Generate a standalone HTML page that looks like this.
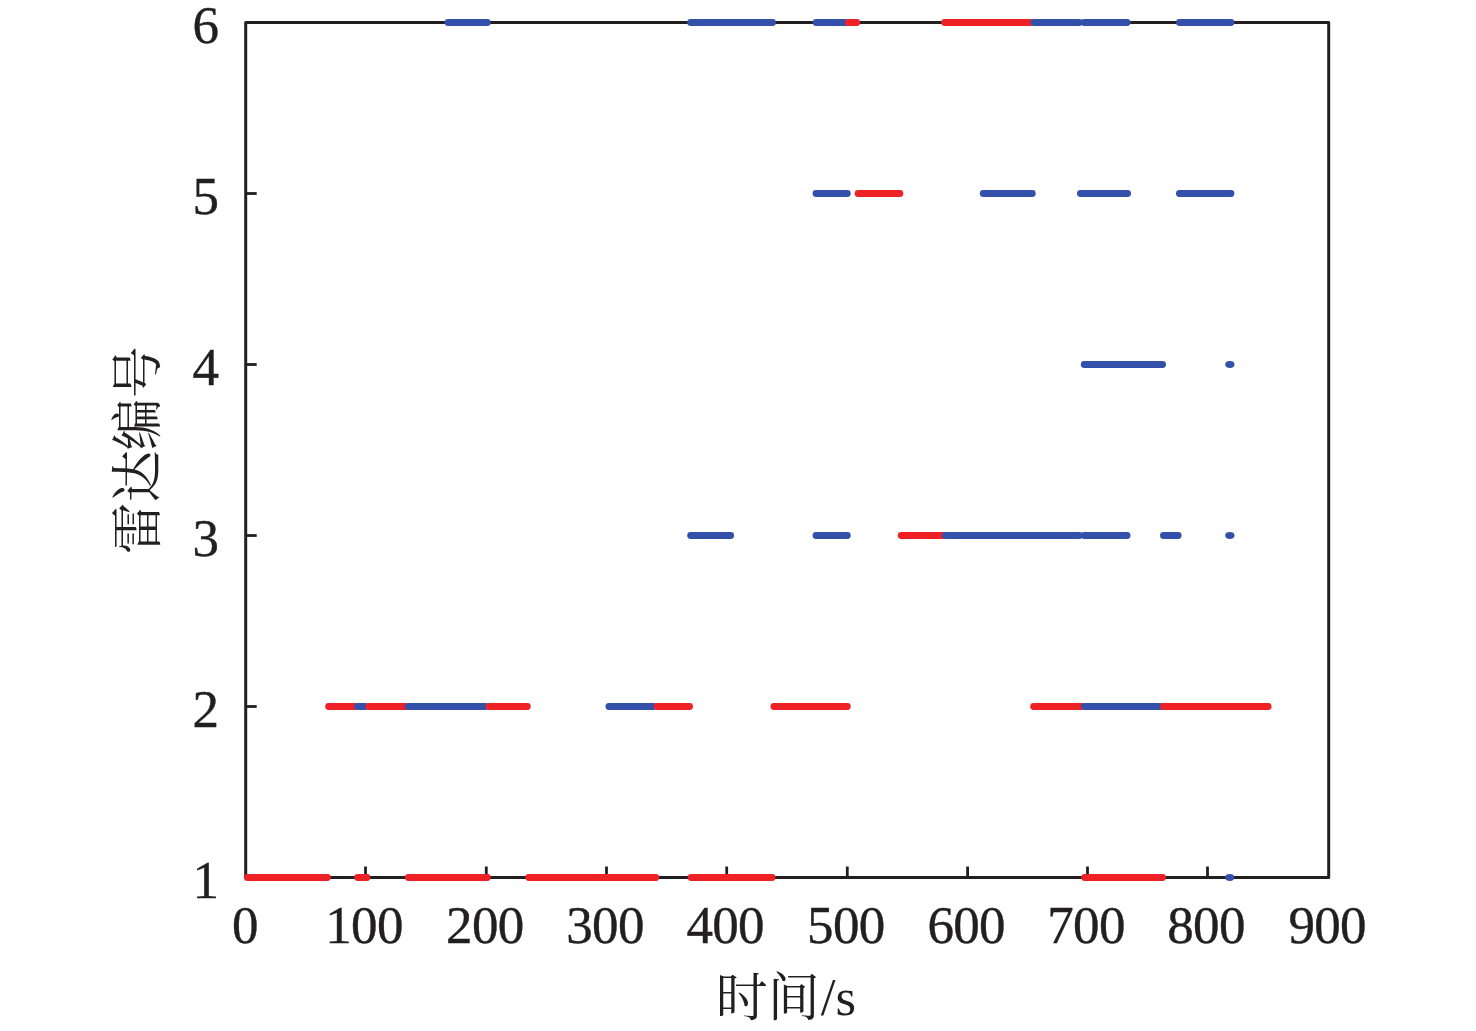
<!DOCTYPE html>
<html lang="zh"><head><meta charset="utf-8"><title>雷达编号 - 时间/s</title>
<style>html,body{margin:0;padding:0;background:#fff;}svg{display:block;}.d{stroke:#231F20;stroke-width:0.4px;letter-spacing:-0.7px;}text{font-family:"Liberation Serif","Noto Serif CJK SC",serif;fill:#231F20;}.cj{font-family:"Noto Serif CJK SC","Liberation Serif",serif;}</style></head><body>
<svg width="1476" height="1031" viewBox="0 0 1476 1031">
<rect width="1476" height="1031" fill="#fff"/>
<rect x="245.70" y="22.50" width="1083.00" height="855.00" fill="none" stroke="#231F20" stroke-width="3.00" stroke-linejoin="round"/>
<line x1="365.50" y1="877.50" x2="365.50" y2="866.50" stroke="#231F20" stroke-width="2.80"/>
<line x1="486.30" y1="877.50" x2="486.30" y2="866.50" stroke="#231F20" stroke-width="2.80"/>
<line x1="606.50" y1="877.50" x2="606.50" y2="866.50" stroke="#231F20" stroke-width="2.80"/>
<line x1="726.70" y1="877.50" x2="726.70" y2="866.50" stroke="#231F20" stroke-width="2.80"/>
<line x1="847.30" y1="877.50" x2="847.30" y2="866.50" stroke="#231F20" stroke-width="2.80"/>
<line x1="967.60" y1="877.50" x2="967.60" y2="866.50" stroke="#231F20" stroke-width="2.80"/>
<line x1="1087.50" y1="877.50" x2="1087.50" y2="866.50" stroke="#231F20" stroke-width="2.80"/>
<line x1="1207.50" y1="877.50" x2="1207.50" y2="866.50" stroke="#231F20" stroke-width="2.80"/>
<line x1="245.70" y1="706.50" x2="256.70" y2="706.50" stroke="#231F20" stroke-width="2.80"/>
<line x1="245.70" y1="535.50" x2="256.70" y2="535.50" stroke="#231F20" stroke-width="2.80"/>
<line x1="245.70" y1="364.50" x2="256.70" y2="364.50" stroke="#231F20" stroke-width="2.80"/>
<line x1="245.70" y1="193.50" x2="256.70" y2="193.50" stroke="#231F20" stroke-width="2.80"/>
<line x1="247.40" y1="877.50" x2="327.40" y2="877.50" stroke="#EE2127" stroke-width="6.80" stroke-linecap="round"/>
<line x1="357.70" y1="877.50" x2="367.00" y2="877.50" stroke="#EE2127" stroke-width="6.80" stroke-linecap="round"/>
<line x1="408.40" y1="877.50" x2="487.30" y2="877.50" stroke="#EE2127" stroke-width="6.80" stroke-linecap="round"/>
<line x1="528.70" y1="877.50" x2="655.80" y2="877.50" stroke="#EE2127" stroke-width="6.80" stroke-linecap="round"/>
<line x1="691.10" y1="877.50" x2="772.10" y2="877.50" stroke="#EE2127" stroke-width="6.80" stroke-linecap="round"/>
<line x1="1084.70" y1="877.50" x2="1162.60" y2="877.50" stroke="#EE2127" stroke-width="6.80" stroke-linecap="round"/>
<ellipse cx="1229.75" cy="877.50" rx="4.55" ry="3.40" fill="#3351AA"/>
<line x1="328.60" y1="706.50" x2="354.60" y2="706.50" stroke="#EE2127" stroke-width="6.80" stroke-linecap="round"/>
<line x1="357.60" y1="706.50" x2="365.60" y2="706.50" stroke="#3351AA" stroke-width="6.80" stroke-linecap="round"/>
<line x1="368.80" y1="706.50" x2="405.60" y2="706.50" stroke="#EE2127" stroke-width="6.80" stroke-linecap="round"/>
<line x1="408.20" y1="706.50" x2="485.60" y2="706.50" stroke="#3351AA" stroke-width="6.80" stroke-linecap="round"/>
<line x1="489.00" y1="706.50" x2="527.30" y2="706.50" stroke="#EE2127" stroke-width="6.80" stroke-linecap="round"/>
<line x1="608.90" y1="706.50" x2="653.60" y2="706.50" stroke="#3351AA" stroke-width="6.80" stroke-linecap="round"/>
<line x1="657.10" y1="706.50" x2="689.60" y2="706.50" stroke="#EE2127" stroke-width="6.80" stroke-linecap="round"/>
<line x1="773.90" y1="706.50" x2="847.30" y2="706.50" stroke="#EE2127" stroke-width="6.80" stroke-linecap="round"/>
<line x1="1033.60" y1="706.50" x2="1081.60" y2="706.50" stroke="#EE2127" stroke-width="6.80" stroke-linecap="round"/>
<line x1="1084.55" y1="706.50" x2="1160.60" y2="706.50" stroke="#3351AA" stroke-width="6.80" stroke-linecap="round"/>
<line x1="1163.40" y1="706.50" x2="1268.20" y2="706.50" stroke="#EE2127" stroke-width="6.80" stroke-linecap="round"/>
<line x1="690.60" y1="535.50" x2="730.70" y2="535.50" stroke="#3351AA" stroke-width="6.80" stroke-linecap="round"/>
<line x1="816.00" y1="535.50" x2="847.30" y2="535.50" stroke="#3351AA" stroke-width="6.80" stroke-linecap="round"/>
<line x1="901.20" y1="535.50" x2="942.60" y2="535.50" stroke="#EE2127" stroke-width="6.80" stroke-linecap="round"/>
<line x1="945.35" y1="535.50" x2="1079.30" y2="535.50" stroke="#3351AA" stroke-width="6.80" stroke-linecap="round"/>
<line x1="1084.10" y1="535.50" x2="1127.10" y2="535.50" stroke="#3351AA" stroke-width="6.80" stroke-linecap="round"/>
<line x1="1163.40" y1="535.50" x2="1178.20" y2="535.50" stroke="#3351AA" stroke-width="6.80" stroke-linecap="round"/>
<ellipse cx="1229.85" cy="535.50" rx="4.65" ry="3.40" fill="#3351AA"/>
<line x1="1084.20" y1="364.50" x2="1162.60" y2="364.50" stroke="#3351AA" stroke-width="6.80" stroke-linecap="round"/>
<ellipse cx="1229.85" cy="364.50" rx="4.65" ry="3.40" fill="#3351AA"/>
<line x1="816.00" y1="193.50" x2="847.30" y2="193.50" stroke="#3351AA" stroke-width="6.80" stroke-linecap="round"/>
<line x1="858.10" y1="193.50" x2="899.90" y2="193.50" stroke="#EE2127" stroke-width="6.80" stroke-linecap="round"/>
<line x1="983.20" y1="193.50" x2="1032.30" y2="193.50" stroke="#3351AA" stroke-width="6.80" stroke-linecap="round"/>
<line x1="1080.40" y1="193.50" x2="1127.60" y2="193.50" stroke="#3351AA" stroke-width="6.80" stroke-linecap="round"/>
<line x1="1179.40" y1="193.50" x2="1231.00" y2="193.50" stroke="#3351AA" stroke-width="6.80" stroke-linecap="round"/>
<line x1="448.00" y1="22.50" x2="487.30" y2="22.50" stroke="#3351AA" stroke-width="6.80" stroke-linecap="round"/>
<line x1="690.60" y1="22.50" x2="772.60" y2="22.50" stroke="#3351AA" stroke-width="6.80" stroke-linecap="round"/>
<line x1="816.10" y1="22.50" x2="845.60" y2="22.50" stroke="#3351AA" stroke-width="6.80" stroke-linecap="round"/>
<line x1="848.40" y1="22.50" x2="856.80" y2="22.50" stroke="#EE2127" stroke-width="6.80" stroke-linecap="round"/>
<line x1="944.60" y1="22.50" x2="1030.60" y2="22.50" stroke="#EE2127" stroke-width="6.80" stroke-linecap="round"/>
<line x1="1033.90" y1="22.50" x2="1079.30" y2="22.50" stroke="#3351AA" stroke-width="6.80" stroke-linecap="round"/>
<line x1="1084.10" y1="22.50" x2="1127.10" y2="22.50" stroke="#3351AA" stroke-width="6.80" stroke-linecap="round"/>
<line x1="1179.40" y1="22.50" x2="1231.00" y2="22.50" stroke="#3351AA" stroke-width="6.80" stroke-linecap="round"/>
<text class="d" x="205.4" y="898.00" font-size="53" text-anchor="middle">1</text>
<text class="d" x="205.4" y="727.00" font-size="53" text-anchor="middle">2</text>
<text class="d" x="205.4" y="556.00" font-size="53" text-anchor="middle">3</text>
<text class="d" x="205.4" y="385.00" font-size="53" text-anchor="middle">4</text>
<text class="d" x="205.4" y="214.00" font-size="53" text-anchor="middle">5</text>
<text class="d" x="205.4" y="43.00" font-size="53" text-anchor="middle">6</text>
<text class="d" x="244.80" y="943.3" font-size="53" text-anchor="middle">0</text>
<text class="d" x="364.00" y="943.3" font-size="53" text-anchor="middle">100</text>
<text class="d" x="484.80" y="943.3" font-size="53" text-anchor="middle">200</text>
<text class="d" x="605.00" y="943.3" font-size="53" text-anchor="middle">300</text>
<text class="d" x="725.20" y="943.3" font-size="53" text-anchor="middle">400</text>
<text class="d" x="845.80" y="943.3" font-size="53" text-anchor="middle">500</text>
<text class="d" x="966.10" y="943.3" font-size="53" text-anchor="middle">600</text>
<text class="d" x="1086.00" y="943.3" font-size="53" text-anchor="middle">700</text>
<text class="d" x="1206.00" y="943.3" font-size="53" text-anchor="middle">800</text>
<text class="d" x="1327.20" y="943.3" font-size="53" text-anchor="middle">900</text>
<text class="cj" x="715.8" y="1015.8" font-size="52">时间</text>
<text x="820.8" y="1015.2" font-size="53">/s</text>
<text class="cj" transform="translate(155.6,450.3) rotate(-90)" font-size="52" text-anchor="middle">雷达编号</text>
</svg></body></html>
